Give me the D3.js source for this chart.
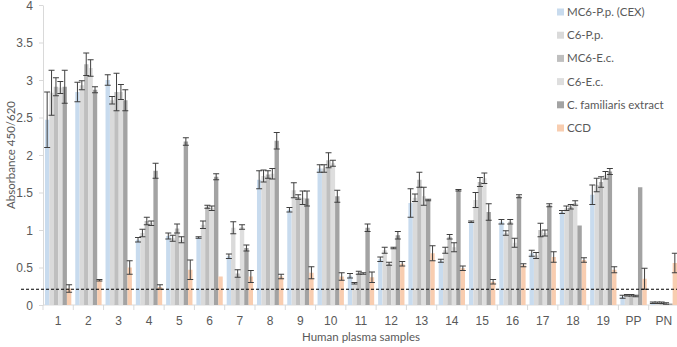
<!DOCTYPE html>
<html>
<head>
<meta charset="utf-8">
<script src="https://cdn.jsdelivr.net/npm/d3@7"></script>
<style>
  body { margin: 0; background: #fff; }
  svg { display: block; font-family: Lato, "Open Sans", sans-serif; }
  .axis path, .axis line { stroke: #d9d9d9; }
  .axis text { fill: #595959; font-size: 12px; }
</style>
</head>
<body>
<svg id="chart"></svg>
<script>
// samples on the x axis
const categories = ['1','2','3','4','5','6','7','8','9','10','11','12','13','14','15','16','17','18','19','PP','PN'];
const seriesNames = ['MC6-P.p. (CEX)', 'C6-P.p.', 'MC6-E.c.', 'C6-E.c.', 'C. familiaris extract', 'CCD'];

// mean absorbance per series
const mc6pp = [2.47,2.84,3.00,0.87,0.92,0.90,0.65,1.67,1.27,1.82,0.39,0.61,1.36,0.59,1.11,1.11,0.69,1.24,1.47,0.11,0.03];
const c6pp  = [2.83,2.93,2.73,0.96,0.89,1.07,1.03,1.72,1.53,1.82,0.29,0.73,1.43,0.73,1.40,0.96,0.66,1.29,1.60,0.13,0.03];
const mc6ec = [2.91,3.21,2.84,1.12,1.02,1.31,0.42,1.74,1.44,1.93,0.43,0.55,1.67,0.91,1.64,1.11,1.00,1.31,1.64,0.13,0.03];
const c6ec  = [2.90,3.16,2.84,1.09,0.87,1.29,1.04,1.75,1.43,1.89,0.42,0.76,1.45,0.77,1.69,0.83,0.96,1.36,1.73,0.12,0.02];
const cfam  = [2.91,2.87,2.73,1.79,2.18,1.71,0.76,2.19,1.42,1.45,1.03,0.93,1.40,1.53,1.24,1.45,1.33,1.06,1.78,1.57,0.02];
const ccd   = [0.22,0.33,0.50,0.24,0.47,0.38,0.38,0.38,0.43,0.38,0.37,0.55,0.69,0.49,0.31,0.53,0.64,0.60,0.47,0.35,0.56];

// error bar half-lengths
const mc6ppErr = [0.37,0.13,0.07,0.03,0.04,0.01,0.03,0.12,0.03,0.05,0.03,0.03,0.19,0.02,0.01,0.03,0.04,0.02,0.13,0.02,0.01];
const c6ppErr  = [0.30,0.06,0.05,0.05,0.04,0.05,0.08,0.08,0.10,0.05,0.01,0.04,0.05,0.04,0.10,0.03,0.04,0.03,0.09,0.01,0.01];
const mc6ecErr = [0.12,0.15,0.25,0.05,0.06,0.02,0.05,0.05,0.03,0.10,0.02,0.02,0.10,0.03,0.06,0.03,0.09,0.03,0.07,0.01,0.01];
const c6ecErr  = [0.08,0.11,0.10,0.03,0.04,0.03,0.03,0.07,0.09,0.04,0.01,0.01,0.12,0.06,0.07,0.06,0.04,0.03,0.05,0.01,0.01];
const cfamErr  = [0.22,0.04,0.14,0.10,0.05,0.04,0.04,0.11,0.10,0.08,0.05,0.05,0.01,0.01,0.11,0.02,0.02,0.00,0.04,0.00,0.00];
const ccdErr   = [0.05,0.01,0.09,0.03,0.13,0.00,0.08,0.03,0.08,0.05,0.07,0.03,0.10,0.03,0.03,0.02,0.07,0.03,0.04,0.14,0.13];

const yTicks = [0, 0.5, 1, 1.5, 2, 2.5, 3, 3.5, 4];
const cutoff = [0.21];

const colors = ['#c8dbee', '#dadada', '#bfbfbf', '#dedede', '#a3a3a3', '#f8cdb0'];

class GroupedBarChart {
  constructor(_config) {
    this.config = {
      parentElement: _config.parentElement,
      containerWidth: _config.containerWidth || 677,
      containerHeight: _config.containerHeight || 347,
      margin: _config.margin || { top: 5, right: -2, bottom: 42, left: 43 }
    };
    this.initVis();
  }

  initVis() {
    let vis = this;
    vis.width = vis.config.containerWidth - vis.config.margin.left - vis.config.margin.right;
    vis.height = vis.config.containerHeight - vis.config.margin.top - vis.config.margin.bottom;

    vis.svg = d3.select(vis.config.parentElement)
      .attr('width', vis.config.containerWidth)
      .attr('height', vis.config.containerHeight);

    vis.chart = vis.svg.append('g')
      .attr('transform', `translate(${vis.config.margin.left},${vis.config.margin.top})`);

    vis.xScale = d3.scaleBand().domain(categories).range([0, vis.width]);
    vis.yScale = d3.scaleLinear().domain([0, 4]).range([vis.height, 0]);

    // bars sit side by side inside each category
    vis.innerScale = d3.scaleBand()
      .domain(d3.range(seriesNames.length))
      .range([vis.xScale.bandwidth() * 0.065, vis.xScale.bandwidth() * 0.935]);

    vis.xAxisG = vis.chart.append('g').attr('class', 'axis x-axis')
      .attr('transform', `translate(0,${vis.height})`);
    vis.yAxisG = vis.chart.append('g').attr('class', 'axis y-axis');
  }

  updateVis() {
    let vis = this;
    const values = [mc6pp, c6pp, mc6ec, c6ec, cfam, ccd];
    const errs = [mc6ppErr, c6ppErr, mc6ecErr, c6ecErr, cfamErr, ccdErr];
    vis.data = [];
    categories.forEach((c, i) => {
      values.forEach((s, k) => {
        vis.data.push({ cat: c, series: k, value: s[i], err: errs[k][i] });
      });
    });
    vis.renderVis();
  }

  renderVis() {
    let vis = this;
    const x = d => vis.xScale(d.cat) + vis.innerScale(d.series);
    const bw = vis.innerScale.bandwidth();

    // y axis
    vis.yAxisG.call(d3.axisLeft(vis.yScale).tickValues(yTicks).tickFormat(d3.format('')).tickSize(4).tickPadding(6).tickSizeOuter(0));
    vis.yAxisG.selectAll('text').attr('dy', '0.35em');

    // x axis with ticks at category boundaries
    vis.xAxisG.call(d3.axisBottom(vis.xScale).tickSize(0).tickPadding(11));
    vis.xAxisG.select('.domain').attr('d', `M0,0H${vis.width}`);
    vis.xAxisG.selectAll('.bound')
      .data(categories.concat(['end']))
      .join('line')
      .attr('class', 'bound')
      .attr('x1', (d, i) => i * vis.xScale.step())
      .attr('x2', (d, i) => i * vis.xScale.step())
      .attr('y1', 0).attr('y2', 5);

    vis.chart.selectAll('.bar')
      .data(vis.data)
      .join('rect')
      .attr('class', 'bar')
      .attr('x', x)
      .attr('width', bw)
      .attr('y', d => vis.yScale(d.value))
      .attr('height', d => vis.height - vis.yScale(d.value))
      .attr('fill', d => colors[d.series]);

    // error bars
    const withErr = vis.data.filter(d => d.err > 0);
    const eb = vis.chart.selectAll('.err')
      .data(withErr)
      .join('g')
      .attr('class', 'err')
      .attr('stroke', '#3f3f3f')
      .attr('stroke-width', 1);
    eb.append('line')
      .attr('x1', d => x(d) + bw / 2).attr('x2', d => x(d) + bw / 2)
      .attr('y1', d => vis.yScale(d.value + d.err))
      .attr('y2', d => vis.yScale(Math.max(0, d.value - d.err)));
    eb.selectAll('.cap')
      .data(d => [d.value + d.err, Math.max(0, d.value - d.err)].map(v => ({ d, v })))
      .join('line')
      .attr('class', 'cap')
      .attr('x1', o => x(o.d) + bw / 2 - 3)
      .attr('x2', o => x(o.d) + bw / 2 + 3)
      .attr('y1', o => vis.yScale(o.v))
      .attr('y2', o => vis.yScale(o.v));

    // cutoff line
    vis.chart.selectAll('.cutoff')
      .data(cutoff)
      .join('line')
      .attr('class', 'cutoff')
      .attr('x1', -22).attr('x2', vis.width)
      .attr('y1', d => vis.yScale(d)).attr('y2', d => vis.yScale(d))
      .attr('stroke', '#000')
      .attr('stroke-width', 1.2)
      .attr('stroke-dasharray', '3,2');

    // axis titles
    vis.svg.append('text')
      .attr('transform', `translate(15,${vis.config.margin.top + vis.height / 2}) rotate(-90)`)
      .attr('text-anchor', 'middle')
      .attr('fill', '#595959')
      .attr('font-size', '11.5px')
      .text('Absorbance 450/620');

    vis.svg.append('text')
      .attr('x', vis.config.margin.left + 318)
      .attr('y', vis.config.containerHeight - 6)
      .attr('text-anchor', 'middle')
      .attr('fill', '#595959')
      .attr('font-size', '11.5px')
      .text('Human plasma samples');

    // legend
    const legend = vis.svg.append('g').attr('transform', 'translate(557,12)');
    const items = legend.selectAll('.item')
      .data(seriesNames)
      .join('g')
      .attr('class', 'item')
      .attr('transform', (d, i) => `translate(0,${i * 23.2})`);
    items.append('rect')
      .attr('x', 0).attr('y', -3.5)
      .attr('width', 7).attr('height', 7)
      .attr('fill', (d, i) => colors[i]);
    items.append('text')
      .attr('x', 10).attr('dy', '0.35em')
      .attr('fill', '#595959')
      .attr('font-size', '11.5px')
      .text(d => d);
  }
}

const chart = new GroupedBarChart({ parentElement: '#chart' });
chart.updateVis();
</script>
</body>
</html>
